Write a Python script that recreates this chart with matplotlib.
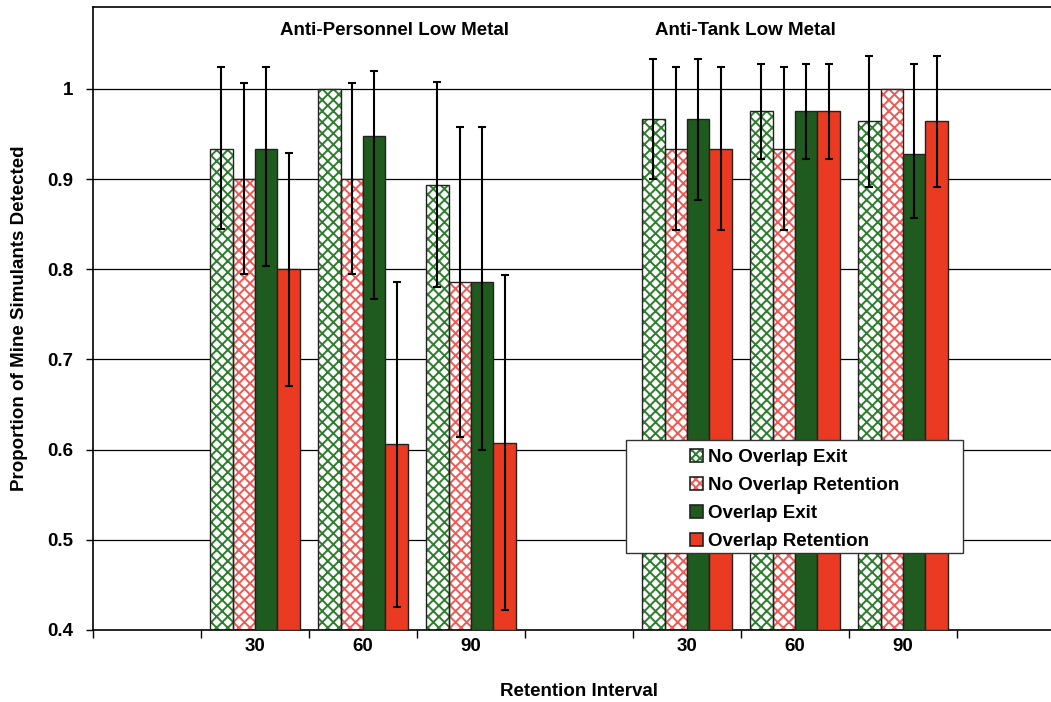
import matplotlib
matplotlib.use("Agg")
import matplotlib.pyplot as plt
from matplotlib.patches import Patch, Rectangle
import numpy as np

# ---------------- data ----------------
categories = ["", "30", "60", "90", "", "30", "60", "90", ""]
group_titles = ["Anti-Personnel Low Metal", "Anti-Tank Low Metal"]
series = ["No Overlap Exit", "No Overlap Retention", "Overlap Exit", "Overlap Retention"]

# values for categories 30, 60, 90 (Anti-Personnel) then 30, 60, 90 (Anti-Tank)
no_overlap_exit = [0.933, 1.000, 0.893, 0.967, 0.975, 0.964]
no_overlap_retention = [0.900, 0.900, 0.786, 0.933, 0.933, 1.000]
overlap_exit = [0.933, 0.948, 0.786, 0.967, 0.975, 0.928]
overlap_retention = [0.800, 0.606, 0.607, 0.933, 0.975, 0.964]

# error bar bounds (lower, upper)
noe_low = [0.845, 1.000, 0.780, 0.900, 0.922, 0.891]
noe_high = [1.024, 1.000, 1.008, 1.033, 1.027, 1.036]
nor_low = [0.795, 0.795, 0.614, 0.843, 0.843, 1.000]
nor_high = [1.006, 1.006, 0.958, 1.024, 1.024, 1.000]
oe_low = [0.804, 0.767, 0.600, 0.877, 0.922, 0.857]
oe_high = [1.024, 1.020, 0.958, 1.033, 1.027, 1.027]
or_low = [0.670, 0.426, 0.422, 0.843, 0.922, 0.891]
or_high = [0.929, 0.786, 0.794, 1.024, 1.027, 1.036]

data_positions = [1, 2, 3, 5, 6, 7]  # category slots holding data

# ---------------- style ----------------
GREEN_H = "#2f7d2f"
RED_H = "#ee5a55"
GREEN = "#1f5a1f"
RED = "#ea3a22"

plt.rcParams["font.family"] = ["Liberation Sans", "DejaVu Sans"]
plt.rcParams["font.weight"] = "bold"
plt.rcParams["hatch.linewidth"] = 1.4

FS = 13.5

fig = plt.figure(figsize=(10.51, 7.02), dpi=100)
ax = fig.add_axes([93 / 1051, 72 / 702, 972 / 1051, 623 / 702])

bw = 0.208
offsets = [-1.5 * bw, -0.5 * bw, 0.5 * bw, 1.5 * bw]
vals = [no_overlap_exit, no_overlap_retention, overlap_exit, overlap_retention]
lows = [noe_low, nor_low, oe_low, or_low]
highs = [noe_high, nor_high, oe_high, or_high]
fills = ["white", "white", GREEN, RED]
hatches = ["xxx", "xxx", None, None]
hcolors = [GREEN_H, RED_H, None, None]

x = np.array(data_positions, dtype=float)
handles = []
for k in range(4):
    xs = x + offsets[k]
    v = np.array(vals[k])
    if hatches[k]:
        ax.bar(xs, v - 0.4, bottom=0.4, width=bw, color="white",
               edgecolor=hcolors[k], hatch=hatches[k], linewidth=0, zorder=2)
        ax.bar(xs, v - 0.4, bottom=0.4, width=bw, fill=False,
               edgecolor="#222222", linewidth=1.0, zorder=3)
        h = (Patch(facecolor="white", edgecolor=hcolors[k], hatch="xxxx", linewidth=0),
             Patch(fill=False, edgecolor="#222222", linewidth=1.2))
    else:
        ax.bar(xs, v - 0.4, bottom=0.4, width=bw, color=fills[k],
               edgecolor="#222222", linewidth=1.0, zorder=3)
        h = Patch(facecolor=fills[k], edgecolor="#222222", linewidth=1.2)
    handles.append(h)
    lo = np.array(lows[k])
    hi = np.array(highs[k])
    mask = (hi - lo) > 1e-6
    ax.errorbar(xs[mask], v[mask], yerr=[(v - lo)[mask], (hi - v)[mask]],
                fmt="none", ecolor="black", elinewidth=1.5, capsize=3.2,
                capthick=1.5, zorder=4)

ax.set_xlim(-0.5, 8.5)
ax.set_ylim(0.4, 1.0907)

# y axis
yticks = [0.4, 0.5, 0.6, 0.7, 0.8, 0.9, 1.0]
ax.set_yticks(yticks)
ax.set_yticklabels(["0.4", "0.5", "0.6", "0.7", "0.8", "0.9", "1"],
                   fontsize=FS, fontweight="bold")
for yv in yticks[1:]:
    ax.axhline(yv, color="black", linewidth=0.9, zorder=1)

# x axis: labels centred, ticks on boundaries
ax.set_xticks(range(len(categories)))
ax.set_xticklabels(categories, fontsize=FS, fontweight="bold")
ax.set_xticks(np.arange(-0.5, 9.0, 1.0), minor=True)
ax.tick_params(axis="x", which="major", length=0, pad=6)
ax.tick_params(axis="x", which="minor", length=6, width=1.0, direction="out")
ax.tick_params(axis="y", length=5, width=1.0, direction="out", pad=9)

for s in ["left", "bottom", "top"]:
    ax.spines[s].set_linewidth(1.2)
ax.spines["right"].set_visible(False)

ax.set_xlabel("Retention Interval", fontsize=FS, fontweight="bold", labelpad=20)
ax.set_ylabel("Proportion of Mine Simulants Detected", fontsize=FS,
              fontweight="bold", labelpad=14)

ax.text(2.29, 1.065, group_titles[0], ha="center", va="center",
        fontsize=FS, fontweight="bold")
ax.text(5.54, 1.065, group_titles[1], ha="center", va="center",
        fontsize=FS, fontweight="bold")

# legend
fig.patches.append(Rectangle((626 / 1051, (702 - 553) / 702), 337 / 1051, 113 / 702,
                             transform=fig.transFigure, facecolor="white",
                             edgecolor="#333333", linewidth=1.0, zorder=5))
leg = fig.legend(handles, series, loc="upper left",
                 bbox_to_anchor=(679 / 1051, (702 - 438) / 702),
                 frameon=False, handlelength=0.7, handleheight=0.7,
                 handletextpad=0.25, labelspacing=0.58, borderpad=0.1,
                 prop={"weight": "bold", "size": FS})
leg.set_zorder(6)

fig.savefig("out.png", dpi=100)
